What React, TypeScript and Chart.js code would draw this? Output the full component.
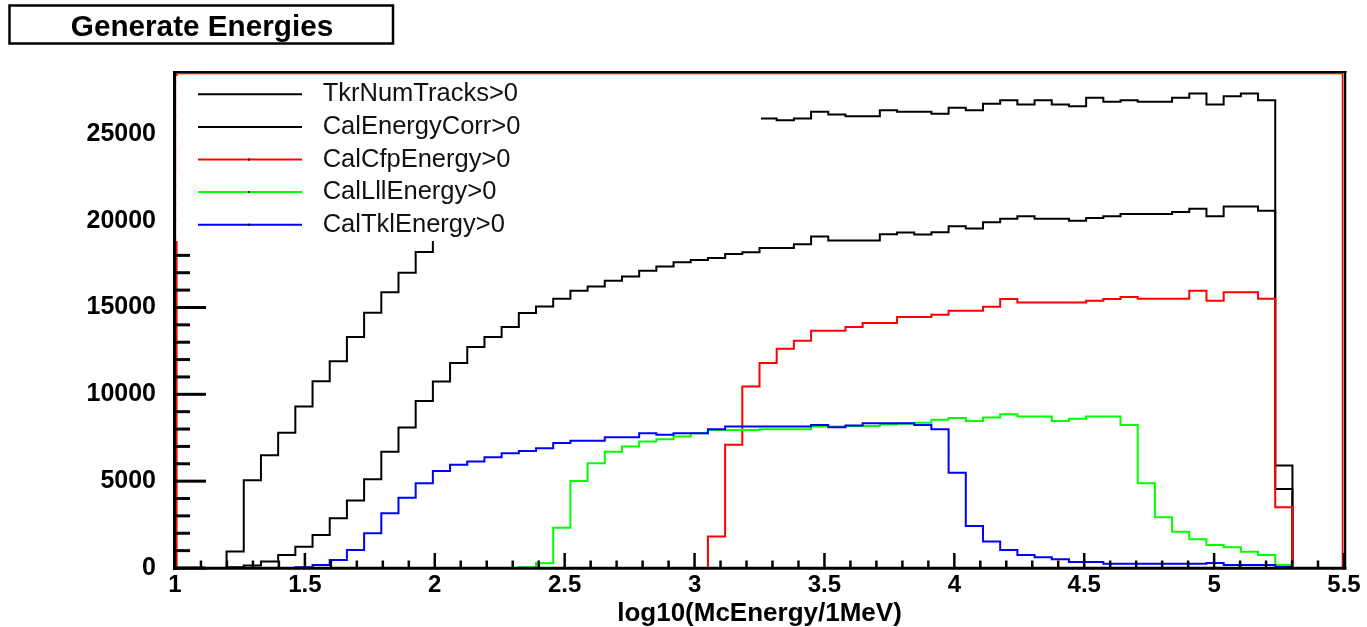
import React, { useEffect, useRef } from 'react';
import { Chart, registerables } from 'chart.js';

Chart.register(...registerables);

// Histogram binning (log10 energy axis)
const X_MIN = 1;
const X_MAX = 5.5;
const N_BINS = 68;
const Y_MAX = 28500;

const xTickValues = [1, 1.5, 2, 2.5, 3, 3.5, 4, 4.5, 5, 5.5];
const yTickValues = [0, 5000, 10000, 15000, 20000, 25000];

const seriesLabels = ['TkrNumTracks>0', 'CalEnergyCorr>0', 'CalCfpEnergy>0', 'CalLllEnergy>0', 'CalTklEnergy>0'];
const seriesColors = ['#000000', '#000000', '#ff0000', '#00ff00', '#0000ff'];

const tkrNumTracks = [
  0, 0, 0,
  950, 5050, 6490, 7780, 9300, 10750, 11900, 13300, 14700, 15880, 17000, 18190,
  19300, 20200, 21000, 21700, 22300, 22800, 23300, 23700, 24000, 24300, 24600, 24800, 25000, 25200, 25300, 25400, 25500, 25600, 25700,
  25880, 25780, 25880, 26270, 26110, 26010, 26010, 26360, 26270, 26270, 26150, 26500, 26360, 26730,
  26930, 26690, 26930, 26690, 26590, 27070, 26840, 26930, 26840, 26840, 27070, 27320, 26690, 27160, 27320, 26930,
  5900,
  0, 0, 0,
];

const calEnergyCorr = [
  0, 0, 0,
  40, 150, 380, 750, 1230, 1900, 2860, 3880, 5110, 6700, 8090, 9620,
  10740, 11800, 12720, 13300, 13870, 14680, 15060, 15500, 15960, 16210, 16540, 16790, 17110, 17360, 17600, 17740, 17850, 18080, 18180,
  18430, 18430, 18640, 19090, 18850, 18850, 18850, 19210, 19310, 19200, 19330, 19670, 19540, 19910,
  20110, 20250, 20110, 20110, 20000, 20150, 20250, 20380, 20380, 20380, 20500, 20690, 20250, 20820, 20820, 20570,
  4550,
  0, 0, 0,
];

const calCfpEnergy = [
  0, 0, 0, 0, 0, 0, 0, 0, 0, 0, 0, 0, 0, 0, 0, 0, 0, 0, 0, 0, 0, 0, 0, 0, 0, 0, 0, 0, 0, 0, 0,
  1810, 7090, 10450, 11800, 12620, 13080, 13660, 13660, 13870, 14100, 14100, 14450, 14450, 14580, 14810, 14810, 15040,
  15490, 15290, 15290, 15290, 15290, 15390, 15490, 15600, 15500, 15500, 15500, 15960, 15390, 15870, 15870, 15500,
  3500,
  0, 0, 0,
];

const calLllEnergy = [
  0, 0, 0, 0, 0, 0, 0, 0, 0, 0, 0, 0, 0, 0, 0, 0, 0, 0, 0, 0,
  50, 280, 2320, 5010, 6030, 6700, 6990, 7280, 7420, 7570, 7760, 7950, 7950, 7950, 7990, 7990, 7990, 8140, 8140, 8180, 8180,
  8260, 8300, 8360, 8530, 8630, 8470, 8660, 8850, 8720, 8720, 8470, 8590, 8720, 8720, 8240,
  4880, 2920, 2090, 1650, 1320, 1190, 940, 750, 170,
  0, 0, 0,
];

const calTklEnergy = [
  0, 0, 0, 0, 0, 0, 0,
  50, 170, 460, 1040, 2000, 3150, 4050, 4880, 5590, 5940, 6130, 6380, 6610, 6740, 6900, 7200,
  7320, 7320, 7530, 7530, 7760, 7670, 7760, 7760, 7990, 8140, 8140, 8140, 8140, 8140, 8240, 8110, 8200, 8340, 8340, 8340, 8240, 7990,
  5490, 2420, 1520, 1040, 750, 620, 500, 350, 350, 250, 250, 250, 250, 250, 250, 290, 170, 170, 170, 60,
  0, 0, 0,
];

const seriesValues = [tkrNumTracks, calEnergyCorr, calCfpEnergy, calLllEnergy, calTklEnergy];

const FONT = '"Liberation Sans", Arial, Helvetica, sans-serif';

function toHistPoints(vals: number[]) {
  const w = (X_MAX - X_MIN) / N_BINS;
  const pts = vals.map((v, i) => ({ x: X_MIN + i * w, y: v }));
  pts.push({ x: X_MAX, y: vals[vals.length - 1] });
  return pts;
}

const decorPlugin = {
  id: 'rootDecor',
  afterDraw(chart: any) {
    const { ctx, chartArea: ca, scales } = chart;
    const xs = scales.x;
    const ys = scales.y;
    ctx.save();

    // red frame
    ctx.strokeStyle = '#ff0000';
    ctx.lineWidth = 1.6;
    ctx.strokeRect(ca.left + 1.8, ca.top + 0.5, ca.right - 1.5 - (ca.left + 1.8), ca.bottom - ca.top - 0.5);

    // black frame/axes
    ctx.strokeStyle = '#000';
    ctx.lineCap = 'butt';
    ctx.lineWidth = 2;
    ctx.beginPath();
    ctx.moveTo(ca.left - 2, ca.top - 1);
    ctx.lineTo(ca.right + 2.5, ca.top - 1);
    ctx.stroke();
    ctx.lineWidth = 2.5;
    ctx.beginPath();
    ctx.moveTo(ca.right + 1, ca.top - 2);
    ctx.lineTo(ca.right + 1, ca.bottom);
    ctx.stroke();
    ctx.lineWidth = 3;
    ctx.beginPath();
    ctx.moveTo(ca.left - 0.5, ca.top - 2);
    ctx.lineTo(ca.left - 0.5, ca.bottom + 2);
    ctx.stroke();
    ctx.beginPath();
    ctx.moveTo(ca.left - 2, ca.bottom + 0.3);
    ctx.lineTo(ca.right + 2.5, ca.bottom + 0.3);
    ctx.stroke();

    // x ticks (inside): major at labelled ticks, minor every 0.1
    ctx.lineWidth = 2.5;
    for (let k = 0; k <= 45; k++) {
      const v = 1 + k * 0.1;
      const px = xs.getPixelForValue(v);
      const len = k % 5 === 0 ? 15 : 7.5;
      ctx.beginPath();
      ctx.moveTo(px, ca.bottom);
      ctx.lineTo(px, ca.bottom - len);
      ctx.stroke();
    }
    // y ticks (inside): major every 5000, minor every 1000
    ctx.lineWidth = 3;
    for (let k = 0; k <= 28; k++) {
      const py = ys.getPixelForValue(k * 1000);
      const len = k % 5 === 0 ? 31 : 15;
      ctx.beginPath();
      ctx.moveTo(ca.left, py);
      ctx.lineTo(ca.left + len, py);
      ctx.stroke();
    }

    // legend box (white, borderless, covers plot)
    ctx.fillStyle = '#ffffff';
    ctx.fillRect(176.2, 76, 761 - 176.2, 241 - 76);
    const ds = chart.data.datasets;
    ctx.font = `25.5px ${FONT}`;
    ctx.textBaseline = 'middle';
    ctx.textAlign = 'left';
    for (let i = 0; i < ds.length; i++) {
      const y = 94.3 + i * 32.6;
      ctx.strokeStyle = ds[i].borderColor;
      ctx.lineWidth = 2;
      ctx.beginPath();
      ctx.moveTo(198, y);
      ctx.lineTo(302, y);
      ctx.stroke();
      if (i >= 2) {
        ctx.fillStyle = '#000';
        ctx.fillRect(248, y - 1, 2, 2);
      }
      ctx.fillStyle = '#111';
      ctx.fillText(ds[i].label, 322.7, y);
    }

    // title box
    ctx.fillStyle = '#fff';
    ctx.fillRect(9, 5, 384, 39);
    ctx.strokeStyle = '#000';
    ctx.lineWidth = 2.5;
    ctx.strokeRect(9.5, 5.5, 383.5, 38);
    ctx.fillStyle = '#000';
    ctx.font = `bold 29.7px ${FONT}`;
    ctx.textAlign = 'center';
    ctx.textBaseline = 'middle';
    ctx.fillText('Generate Energies', 202, 27.5);

    ctx.restore();
  },
};

export default function App() {
  const canvasRef = useRef<HTMLCanvasElement | null>(null);

  useEffect(() => {
    const canvas = canvasRef.current;
    if (!canvas) return;
    const n = seriesValues.length;
    const chart = new Chart(canvas, {
      type: 'line',
      data: {
        datasets: seriesValues.map((vals, i) => ({
          label: seriesLabels[i],
          data: toHistPoints(vals),
          borderColor: seriesColors[i],
          backgroundColor: seriesColors[i],
          borderWidth: 2,
          pointRadius: 0,
          pointHoverRadius: 0,
          fill: false,
          stepped: 'before' as const,
          tension: 0,
          borderJoinStyle: 'miter' as const,
          borderCapStyle: 'butt' as const,
          order: n - i,
        })),
      },
      options: {
        animation: false,
        responsive: false,
        devicePixelRatio: 1,
        layout: { padding: { left: 0, top: 73, right: 23, bottom: 0 } },
        plugins: {
          legend: { display: false },
          tooltip: { enabled: false },
          title: { display: false },
        },
        scales: {
          x: {
            type: 'linear',
            min: X_MIN,
            max: X_MAX,
            grid: { display: false },
            border: { display: false },
            afterBuildTicks: (s: any) => {
              s.ticks = xTickValues.map((v) => ({ value: v }));
            },
            ticks: {
              autoSkip: false,
              maxRotation: 0,
              padding: -5,
              color: '#000',
              font: { family: FONT, size: 24, weight: 'bold' },
              callback: (v: any) => String(v),
            },
            title: {
              display: true,
              text: 'log10(McEnergy/1MeV)',
              color: '#000',
              font: { family: FONT, size: 26, weight: 'bold' },
              padding: { top: 0, bottom: -2 },
            },
            afterFit: (s: any) => {
              s.height = 59;
            },
          },
          y: {
            type: 'linear',
            min: 0,
            max: Y_MAX,
            grid: { display: false },
            border: { display: false },
            afterBuildTicks: (s: any) => {
              s.ticks = yTickValues.map((v) => ({ value: v }));
            },
            ticks: {
              autoSkip: false,
              padding: 11,
              color: '#000',
              font: { family: FONT, size: 25, weight: 'bold' },
              callback: (v: any) => String(v),
            },
            afterFit: (s: any) => {
              s.width = 175;
            },
          },
        },
      } as any,
      plugins: [decorPlugin],
    });
    return () => chart.destroy();
  }, []);

  return (
    <div style={{ position: 'absolute', left: 0, top: 0, width: 1367, height: 627, background: '#fff' }}>
      <canvas ref={canvasRef} width={1367} height={627} style={{ display: 'block', width: 1367, height: 627 }} />
    </div>
  );
}
